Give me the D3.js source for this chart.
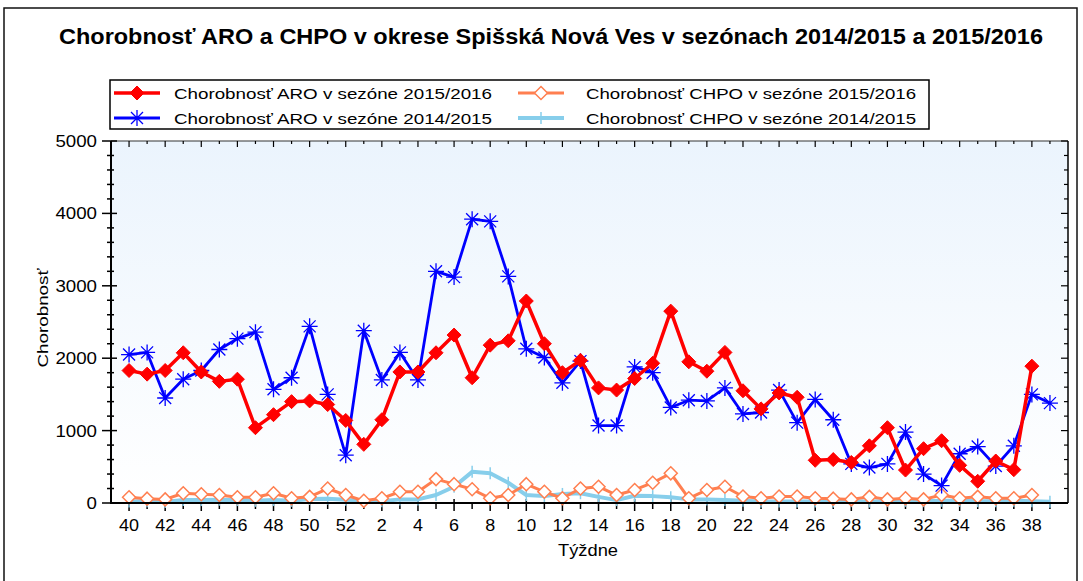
<!DOCTYPE html>
<html>
<head>
<meta charset="utf-8">
<script src="https://cdn.jsdelivr.net/npm/d3@7/dist/d3.min.js"></script>
<style>
body { margin: 0; background: #fff; }
text { font-family: "Liberation Sans", Arial, sans-serif; fill: #000; }
</style>
</head>
<body>
<svg id="chart" width="1083" height="581"></svg>
<script>
// tyzdne (weeks) of the season, 40..52 then 1..39
var weeks = [40,41,42,43,44,45,46,47,48,49,50,51,52,
  1,2,3,4,5,6,7,8,9,10,11,12,13,14,15,16,17,18,19,20,21,22,23,24,25,26,27,28,29,30,31,32,33,34,35,36,37,38,39];

var aro1516 = [1830,1780,1830,2075,1810,1680,1710,1040,1220,1400,1410,1360,1140,
  810,1150,1810,1810,2075,2320,1730,2180,2240,2790,2200,1800,1970,1590,1560,1720,1930,2650,1950,1820,2080,1550,1300,1520,1460,
  590,600,560,790,1040,455,750,860,520,300,580,460,1890,null];

var aro1415 = [2050,2080,1450,1710,1830,2120,2270,2360,1570,1730,2440,1500,660,
  2380,1700,2080,1700,3200,3120,3920,3890,3130,2130,2010,1660,1960,1070,1070,1880,1800,1320,1420,1410,1590,1230,1250,1560,1110,
  1430,1150,540,490,540,980,400,240,680,780,510,790,1500,1380];

var chpo1516 = [80,60,50,135,120,110,80,80,135,65,85,200,110,
  30,65,155,155,330,260,190,65,110,260,155,65,200,225,110,180,280,410,65,180,225,90,65,90,90,
  65,60,50,85,50,65,50,110,65,85,65,65,110,null];

var chpo1415 = [20,25,15,40,40,45,40,30,40,30,55,60,45,
  25,25,50,50,110,225,430,410,280,110,95,125,135,85,40,100,95,80,50,50,40,30,20,20,20,
  20,20,25,20,25,30,25,30,30,25,25,30,25,18];

var yTicks = [0,1000,2000,3000,4000,5000];

var svg = d3.select("#chart");

// outer frame
svg.append("rect").attr("x", 4).attr("y", 8).attr("width", 1073).attr("height", 600)
  .attr("fill", "none").attr("stroke", "#111").attr("stroke-width", 1.5);

var pLeft = 111, pRight = 1068, pTop = 141, pBottom = 503;

var x = d3.scalePoint().domain(weeks.map(String)).range([pLeft, pRight]).padding(1);
var y = d3.scaleLinear().domain([0, 5000]).range([pBottom, pTop]);

// plot background gradient
var defs = svg.append("defs");
var grad = defs.append("linearGradient").attr("id", "bg").attr("x1", 0).attr("y1", 0).attr("x2", 0).attr("y2", 1);
grad.append("stop").attr("offset", "0%").attr("stop-color", "#ebf4fd");
grad.append("stop").attr("offset", "100%").attr("stop-color", "#ffffff");
svg.append("rect").attr("x", pLeft).attr("y", pTop).attr("width", pRight - pLeft).attr("height", pBottom - pTop)
  .attr("fill", "url(#bg)");

// title
svg.append("text").attr("x", 551).attr("y", 44).attr("text-anchor", "middle")
  .attr("font-size", 22).attr("font-weight", "bold")
  .attr("textLength", 984).attr("lengthAdjust", "spacingAndGlyphs")
  .text("Chorobnosť ARO a CHPO v okrese Spišská Nová Ves v sezónach 2014/2015 a 2015/2016");

// axes frame
svg.append("line").attr("x1", pLeft).attr("x2", pRight).attr("y1", pTop).attr("y2", pTop).attr("stroke", "#333").attr("stroke-width", 1);
svg.append("line").attr("x1", pRight).attr("x2", pRight).attr("y1", pTop).attr("y2", pBottom).attr("stroke", "#000").attr("stroke-width", 1.5);

// y ticks (major every 1000, minor every 200)
var yMinor = d3.range(0, 5001, 200);
svg.append("g").selectAll("line").data(yMinor).enter().append("line")
  .attr("x1", d => d % 1000 === 0 ? pLeft - 9 : pLeft - 4)
  .attr("x2", d => d % 1000 === 0 ? pLeft + 6 : pLeft + 3)
  .attr("y1", d => y(d)).attr("y2", d => y(d))
  .attr("stroke", "#000").attr("stroke-width", 1.5);
svg.append("g").selectAll("line").data(yMinor).enter().append("line")
  .attr("x1", d => d % 1000 === 0 ? pRight - 7 : pRight - 4)
  .attr("x2", pRight)
  .attr("y1", d => y(d)).attr("y2", d => y(d))
  .attr("stroke", "#000").attr("stroke-width", 1.2);
svg.append("g").selectAll("text").data(yTicks).enter().append("text")
  .attr("x", 97).attr("y", d => y(d) + 6).attr("text-anchor", "end")
  .attr("font-size", 16)
  .attr("textLength", d => String(d).length * 10.4).attr("lengthAdjust", "spacingAndGlyphs")
  .text(d => d);

// x ticks
svg.append("g").selectAll("line").data(weeks).enter().append("line")
  .attr("x1", d => x(String(d))).attr("x2", d => x(String(d)))
  .attr("y1", (d, i) => i % 2 === 0 ? pBottom - 4 : pBottom)
  .attr("y2", (d, i) => i % 2 === 0 ? pBottom + 8 : pBottom + 6)
  .attr("stroke", "#000").attr("stroke-width", 1.5);
svg.append("g").selectAll("line").data(weeks).enter().append("line")
  .attr("x1", d => x(String(d))).attr("x2", d => x(String(d)))
  .attr("y1", pTop).attr("y2", (d, i) => i % 2 === 0 ? pTop + 6 : pTop + 3)
  .attr("stroke", "#000").attr("stroke-width", 1.2);
svg.append("g").selectAll("text").data(weeks.filter((d, i) => i % 2 === 0)).enter().append("text")
  .attr("x", d => x(String(d))).attr("y", 531).attr("text-anchor", "middle")
  .attr("font-size", 17)
  .attr("textLength", d => String(d).length * 10).attr("lengthAdjust", "spacingAndGlyphs")
  .text(d => d);

// axis titles
svg.append("text").attr("x", 588).attr("y", 556).attr("text-anchor", "middle").attr("font-size", 16)
  .attr("textLength", 60).attr("lengthAdjust", "spacingAndGlyphs").text("Týždne");
svg.append("text").attr("transform", "translate(48,318) rotate(-90)").attr("text-anchor", "middle").attr("font-size", 15)
  .attr("textLength", 99).attr("lengthAdjust", "spacingAndGlyphs").text("Chorobnosť");

// series
var series = [
  { name: "Chorobnosť CHPO v sezóne 2014/2015", values: chpo1415, color: "#87ceeb", width: 4, marker: "tick" },
  { name: "Chorobnosť CHPO v sezóne 2015/2016", values: chpo1516, color: "#ff7f50", width: 3, marker: "odiamond" },
  { name: "Chorobnosť ARO v sezóne 2014/2015", values: aro1415, color: "#0000ff", width: 2.8, marker: "star" },
  { name: "Chorobnosť ARO v sezóne 2015/2016", values: aro1516, color: "#ff0000", width: 3.5, marker: "diamond" }
];

function drawMarker(g, type, color) {
  if (type === "diamond") {
    g.append("path").attr("d", "M0,-7L7,0L0,7L-7,0Z").attr("fill", color).attr("stroke", color).attr("stroke-width", 1);
  } else if (type === "odiamond") {
    g.append("path").attr("d", "M0,-6.5L6.5,0L0,6.5L-6.5,0Z").attr("fill", "#fff").attr("stroke", color).attr("stroke-width", 1.5);
  } else if (type === "star") {
    g.append("path").attr("d", "M0,-8L0,8M-8,0L8,0M-6,-6L6,6M-6,6L6,-6").attr("stroke", color).attr("stroke-width", 1.3);
  } else {
    g.append("path").attr("d", "M0,-6L0,6").attr("stroke", color).attr("stroke-width", 1.5);
  }
}

var line = d3.line().defined(d => d != null).x((d, i) => x(String(weeks[i]))).y(d => y(d));

series.forEach(function(s) {
  svg.append("path").datum(s.values).attr("d", line)
    .attr("fill", "none").attr("stroke", s.color).attr("stroke-width", s.width).attr("stroke-linejoin", "round");
  var pts = s.values.map((v, i) => ({ v: v, w: weeks[i] })).filter(p => p.v != null);
  svg.append("g").selectAll("g").data(pts).enter().append("g")
    .attr("transform", p => "translate(" + x(String(p.w)) + "," + y(p.v) + ")")
    .each(function() { drawMarker(d3.select(this), s.marker, s.color); });
});

// left and bottom axis lines on top of the data
svg.append("line").attr("x1", pLeft).attr("x2", pLeft).attr("y1", pTop).attr("y2", pBottom + 1).attr("stroke", "#000").attr("stroke-width", 2);
svg.append("line").attr("x1", pLeft - 1).attr("x2", pRight).attr("y1", pBottom).attr("y2", pBottom).attr("stroke", "#000").attr("stroke-width", 2);

// legend
var lg = svg.append("g");
lg.append("rect").attr("x", 110).attr("y", 80).attr("width", 819).attr("height", 49)
  .attr("fill", "#fff").attr("stroke", "#000").attr("stroke-width", 1.5);
var legendItems = [
  { s: series[3], col: 0, row: 0, len: 318 },
  { s: series[1], col: 1, row: 0, len: 330 },
  { s: series[2], col: 0, row: 1, len: 318 },
  { s: series[0], col: 1, row: 1, len: 330 }
];
legendItems.forEach(function(it) {
  var lx = it.col === 0 ? 114 : 518;
  var ly = it.row === 0 ? 93 : 118;
  var g = lg.append("g");
  g.append("line").attr("x1", lx).attr("x2", lx + 46).attr("y1", ly).attr("y2", ly)
    .attr("stroke", it.s.color).attr("stroke-width", it.s.width);
  var m = g.append("g").attr("transform", "translate(" + (lx + 23) + "," + ly + ")");
  drawMarker(m, it.s.marker, it.s.color);
  g.append("text").attr("x", lx + 60 + (it.col === 1 ? 8 : 0)).attr("y", ly + 6).attr("font-size", 15)
    .attr("textLength", it.len).attr("lengthAdjust", "spacingAndGlyphs").text(it.s.name);
});
</script>
</body>
</html>
